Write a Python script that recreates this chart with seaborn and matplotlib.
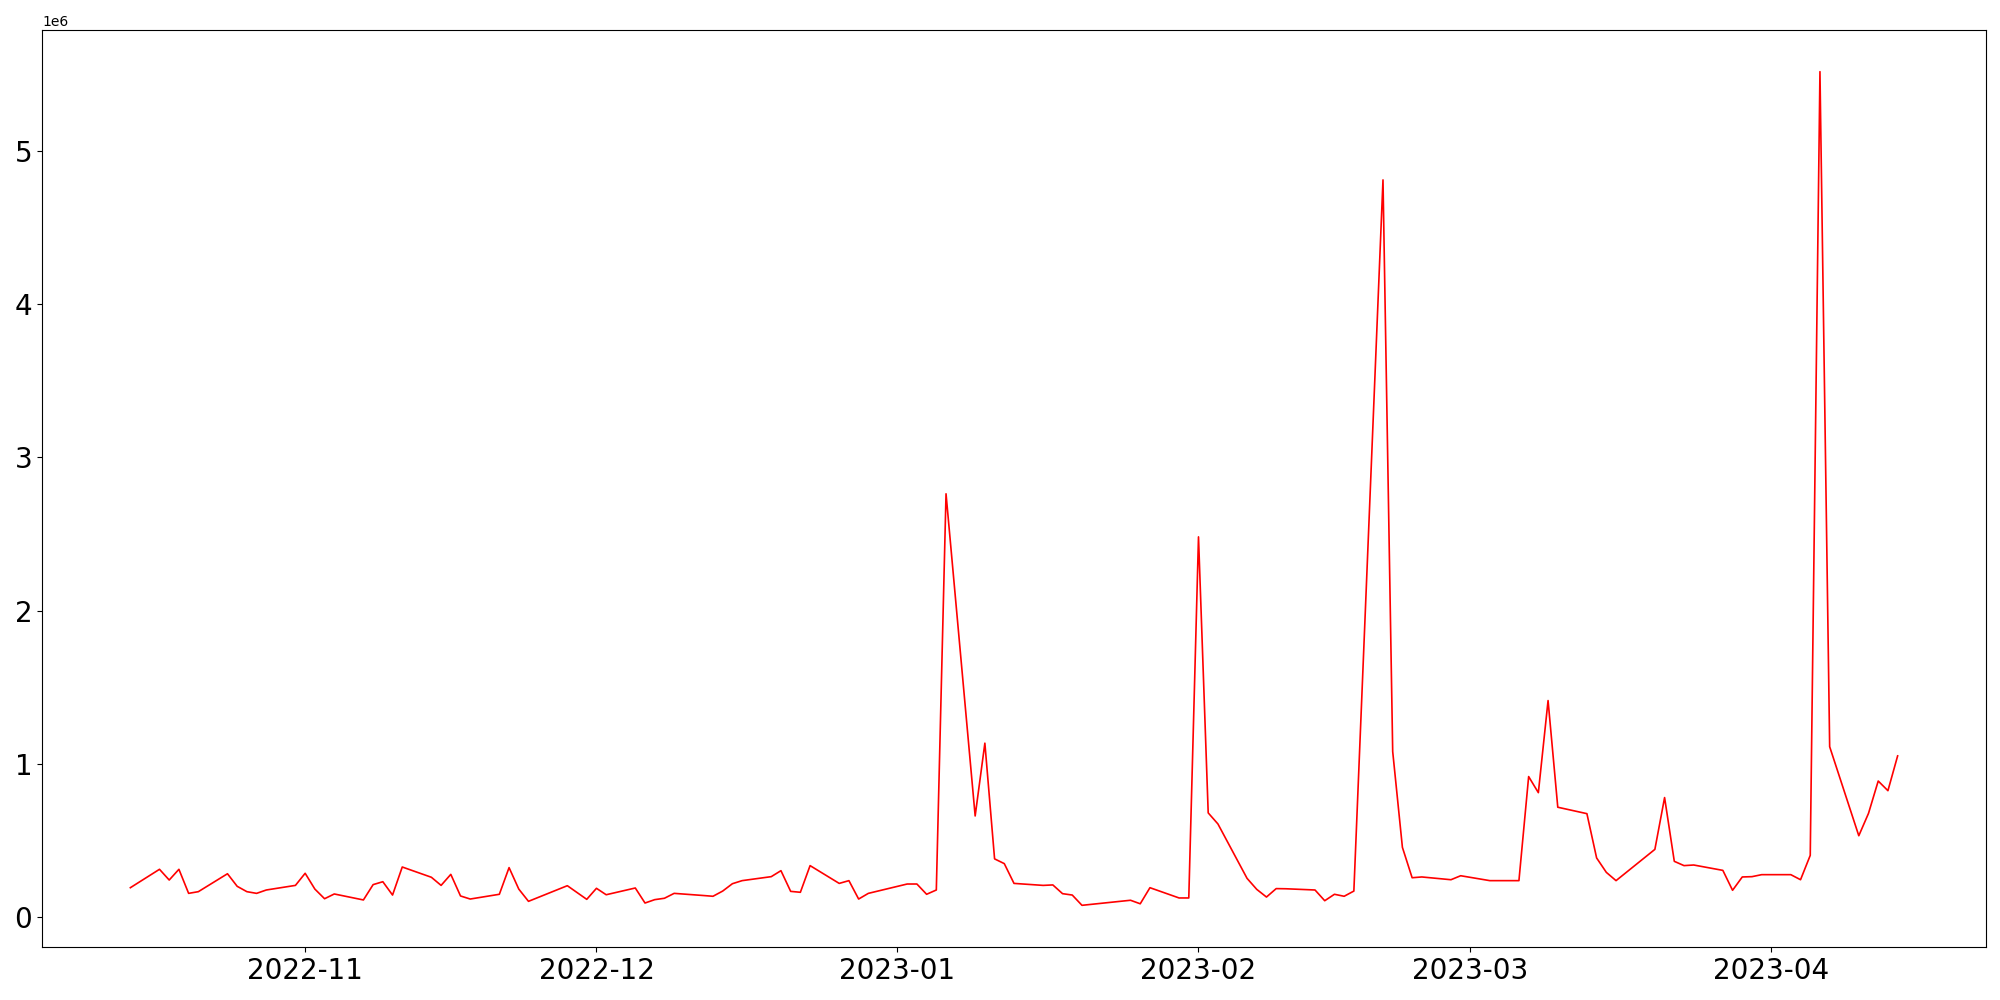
import pandas as pd
import numpy as np
import matplotlib
matplotlib.use('Agg')
import matplotlib.pyplot as plt
import seaborn as sns

# daily values (business days), in millions
dates = [
    '2022-10-14', '2022-10-17', '2022-10-18', '2022-10-19', '2022-10-20', '2022-10-21',
    '2022-10-24', '2022-10-25', '2022-10-26', '2022-10-27', '2022-10-28',
    '2022-10-31', '2022-11-01', '2022-11-02', '2022-11-03', '2022-11-04',
    '2022-11-07', '2022-11-08', '2022-11-09', '2022-11-10', '2022-11-11',
    '2022-11-14', '2022-11-15', '2022-11-16', '2022-11-17', '2022-11-18',
    '2022-11-21', '2022-11-22', '2022-11-23', '2022-11-24',
    '2022-11-28', '2022-11-30', '2022-12-01', '2022-12-02',
    '2022-12-05', '2022-12-06', '2022-12-07', '2022-12-08', '2022-12-09',
    '2022-12-12', '2022-12-13', '2022-12-14', '2022-12-15', '2022-12-16',
    '2022-12-19', '2022-12-20', '2022-12-21', '2022-12-22', '2022-12-23',
    '2022-12-26', '2022-12-27', '2022-12-28', '2022-12-29',
    '2023-01-02', '2023-01-03', '2023-01-04', '2023-01-05', '2023-01-06',
    '2023-01-09', '2023-01-10', '2023-01-11', '2023-01-12', '2023-01-13',
    '2023-01-16', '2023-01-17', '2023-01-18', '2023-01-19', '2023-01-20',
    '2023-01-25', '2023-01-26', '2023-01-27',
    '2023-01-30', '2023-01-31', '2023-02-01', '2023-02-02', '2023-02-03',
    '2023-02-06', '2023-02-07', '2023-02-08', '2023-02-09', '2023-02-10',
    '2023-02-13', '2023-02-14', '2023-02-15', '2023-02-16', '2023-02-17',
    '2023-02-20', '2023-02-21', '2023-02-22', '2023-02-23', '2023-02-24',
    '2023-02-27', '2023-02-28', '2023-03-03',
    '2023-03-06', '2023-03-07', '2023-03-08', '2023-03-09', '2023-03-10',
    '2023-03-13', '2023-03-14', '2023-03-15', '2023-03-16',
    '2023-03-20', '2023-03-21', '2023-03-22', '2023-03-23', '2023-03-24',
    '2023-03-27', '2023-03-28', '2023-03-29', '2023-03-30', '2023-03-31',
    '2023-04-03', '2023-04-04', '2023-04-05', '2023-04-06', '2023-04-07',
    '2023-04-10', '2023-04-11', '2023-04-12', '2023-04-13', '2023-04-14',
]
values_m = [
    0.192, 0.312, 0.242, 0.312, 0.155, 0.166,
    0.283, 0.201, 0.166, 0.155, 0.177,
    0.207, 0.286, 0.183, 0.120, 0.151,
    0.112, 0.212, 0.231, 0.144, 0.327,
    0.260, 0.207, 0.279, 0.138, 0.118,
    0.149, 0.323, 0.183, 0.103,
    0.205, 0.116, 0.188, 0.146,
    0.190, 0.092, 0.114, 0.123, 0.155,
    0.141, 0.136, 0.170, 0.218, 0.238,
    0.264, 0.303, 0.168, 0.162, 0.336,
    0.220, 0.238, 0.118, 0.155,
    0.216, 0.216, 0.149, 0.177, 2.762,
    0.660, 1.135, 0.380, 0.349, 0.220,
    0.207, 0.210, 0.153, 0.144, 0.077,
    0.110, 0.087, 0.192,
    0.125, 0.125, 2.481, 0.680, 0.608,
    0.253, 0.181, 0.131, 0.186, 0.185,
    0.177, 0.107, 0.149, 0.136, 0.170,
    4.810, 1.080, 0.455, 0.257, 0.262,
    0.244, 0.270, 0.238,
    0.238, 0.917, 0.812, 1.413, 0.717,
    0.675, 0.386, 0.292, 0.238,
    0.442, 0.780, 0.364, 0.336, 0.340,
    0.305, 0.175, 0.262, 0.264, 0.277,
    0.277, 0.244, 0.403, 5.516, 1.112,
    0.531, 0.677, 0.888, 0.825, 1.052,
]

df = pd.DataFrame({'date': pd.to_datetime(dates), 'value': np.array(values_m) * 1e6})

fig, ax = plt.subplots(figsize=(20, 10), dpi=100)
sns.lineplot(data=df, x='date', y='value', color='red', linewidth=1.2, ax=ax)
ax.set_xlabel('')
ax.set_ylabel('')
ax.tick_params(axis='both', labelsize=20)

fig.subplots_adjust(left=0.021, right=0.993, top=0.97, bottom=0.053)
fig.savefig('out.png')
